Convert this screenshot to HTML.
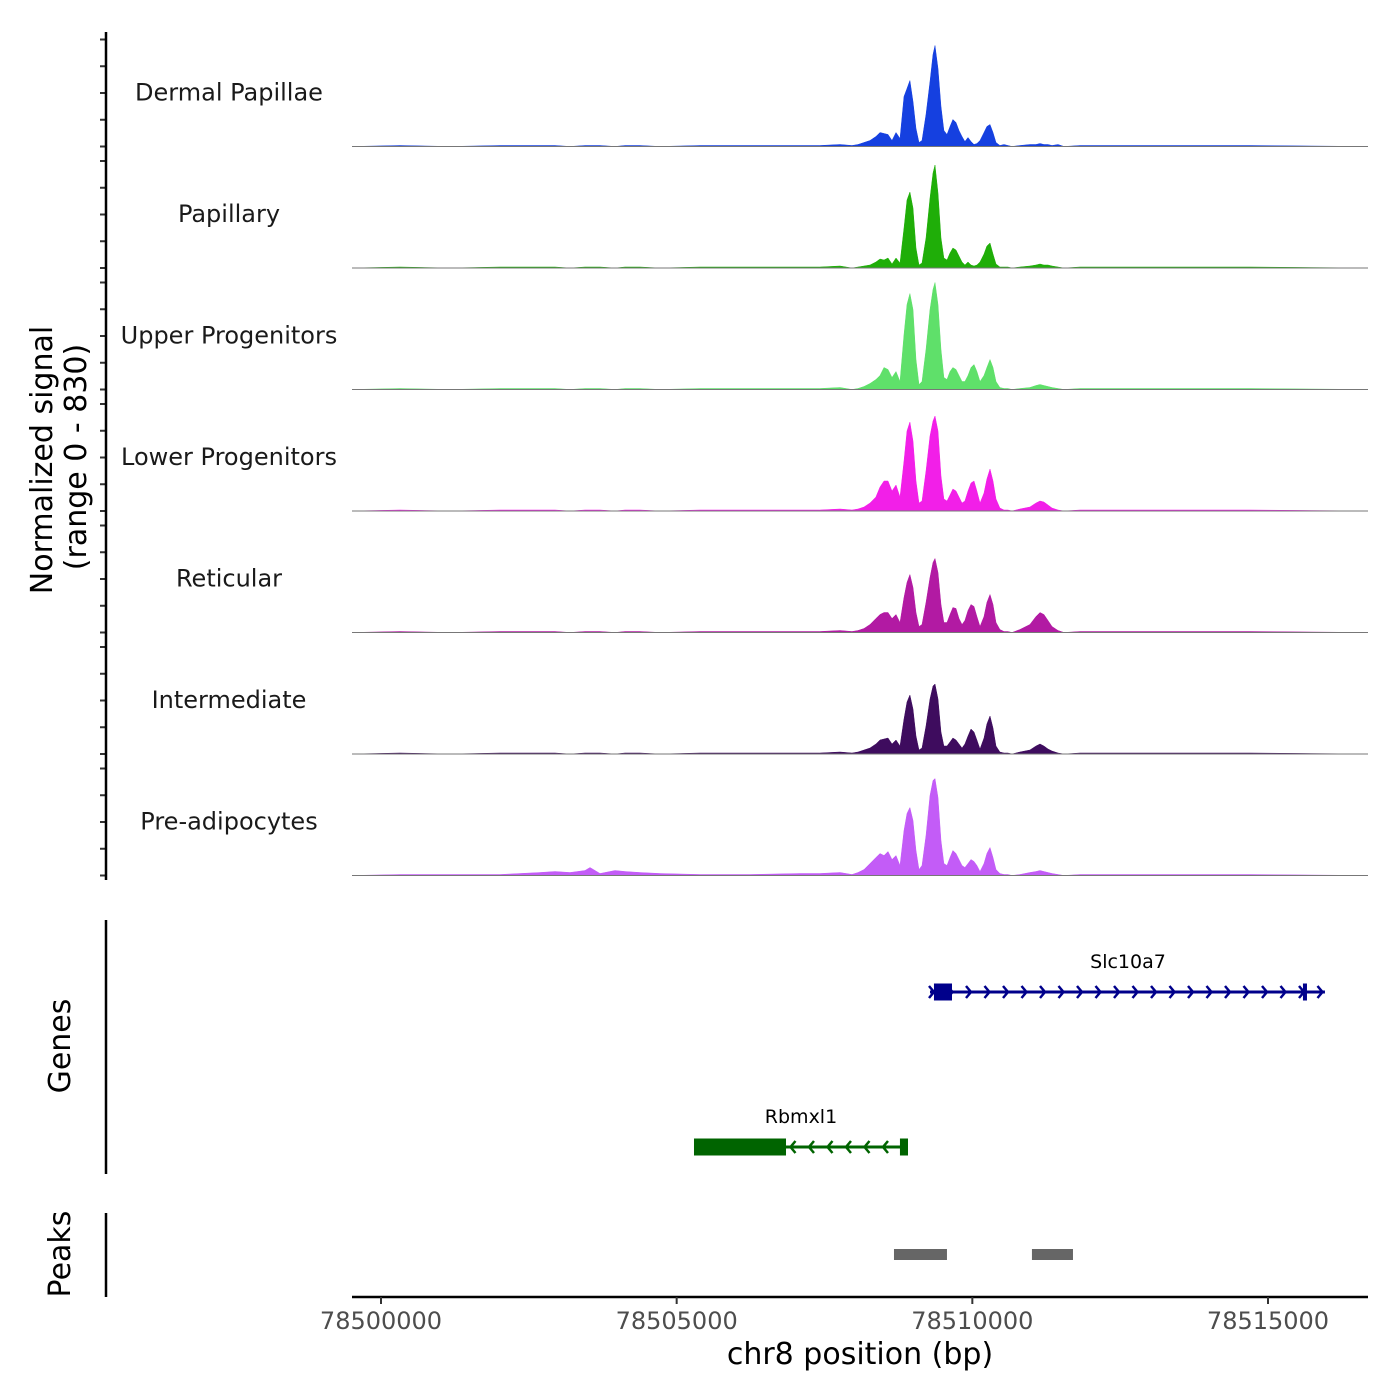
<!DOCTYPE html>
<html><head><meta charset="utf-8"><style>
html,body{margin:0;padding:0;background:#fff;}
svg{display:block;font-family:"DejaVu Sans","Liberation Sans",sans-serif;}
</style></head><body>
<svg id="chart" width="1400" height="1400" viewBox="0 0 1400 1400"></svg>
<script>
const NS="http://www.w3.org/2000/svg";
const CHROM_START=78500000;
const trackNames=["Dermal Papillae","Papillary","Upper Progenitors","Lower Progenitors","Reticular","Intermediate","Pre-adipocytes"];
const trackColors=["#1540e0","#1fae08","#5fe06a","#f21fe8","#b21aa3","#3e0c5e","#c35cf7"];
// positions as bp offsets from 78500000
const positions=[-490,321,1167,2012,2689,2942,3196,3450,3534,3703,3957,4126,4380,4718,5394,6240,7085,7423,7762,
7965,8066,8168,8269,8370,8438,8506,8573,8641,8709,8776,8844,8895,8945,8996,9047,9098,9148,9216,9284,9334,9368,9419,9470,9520,9571,9622,9672,9723,9774,9825,9875,9926,9977,10028,10078,10129,10197,10247,10298,10349,10400,10467,10535,10602,10670,10805,10974,11076,11144,11211,11279,11347,11448,11550,
11820,13004,14695,16690];
const farLeftFlat=[0,1,0,1,1,1,0,1,1,1,0,1,1,0,1,1,1,1,2];
const farLeftPre=[0,1,1,1,3,4,3,5,8,2,5,4,3,2,1,1,2,2,3];
const farRight=[1,1,1,0];
const core1=[1,2,4,6,10,14,13,12,6,14,8,50,58,66,45,18,4,6,32,65,92,101,78,40,16,12,20,27,24,16,10,5,9,5,2,3,6,14,20,22,14,4,1,2,1,0,1,2,2,3,2,2,1,2,0];
const core2=[0,1,2,3,6,9,8,10,4,10,5,40,68,76,60,20,3,5,30,70,95,103,75,30,10,8,15,20,18,12,6,3,6,3,2,3,6,14,22,25,14,4,1,1,1,0,1,2,3,4,3,3,2,1,0];
const core3=[0,1,3,6,10,14,22,20,12,18,8,55,85,96,80,30,5,8,40,80,100,107,85,40,12,10,18,22,20,14,8,8,14,22,25,18,8,14,22,30,22,8,2,1,1,0,1,2,4,5,4,3,2,1,0];
const core4=[1,2,4,8,14,24,30,30,20,26,14,50,80,89,70,30,8,10,40,75,90,95,80,35,12,10,16,22,20,14,8,10,20,28,30,20,8,18,32,42,30,12,3,1,1,0,2,4,8,10,9,6,3,1,0];
const core5=[1,2,4,8,14,18,20,20,14,18,10,35,50,58,45,20,6,8,30,55,70,74,60,28,10,10,18,25,24,14,8,12,22,28,26,16,6,16,30,38,28,10,3,1,1,0,3,8,16,20,18,12,6,2,0];
const core6=[1,2,4,6,10,14,15,16,10,14,8,35,52,59,45,18,4,6,28,55,68,70,55,22,8,8,12,16,14,10,6,10,18,25,22,14,5,16,30,38,26,8,2,1,1,0,2,4,8,10,8,5,3,1,0];
const core7=[1,3,6,12,18,22,20,24,16,20,10,45,62,68,55,25,6,10,40,80,95,97,78,35,12,10,18,25,22,16,10,8,12,16,14,10,4,12,22,28,18,6,2,1,1,0,1,3,4,5,4,3,2,1,0];
const trackValues=[
 farLeftFlat.concat(core1,farRight),
 farLeftFlat.concat(core2,farRight),
 farLeftFlat.concat(core3,farRight),
 farLeftFlat.concat(core4,farRight),
 farLeftFlat.concat(core5,farRight),
 farLeftFlat.concat(core6,farRight),
 farLeftPre.concat(core7,farRight)
];
const xTicks=[78500000,78505000,78510000,78515000];
const geneNames=["Slc10a7","Rbmxl1"];
const geneStarts=[9284,5293];
const geneEnds=[15963,8912];
const geneStrands=[1,-1];
const geneColors=["#00008b","#006400"];
const geneExonStarts=[[9351,15591],[5293,8776]];
const geneExonEnds=[[9656,15659],[6849,8912]];
const peakStarts=[8675,11008];
const peakEnds=[9571,11702];

const svg=document.getElementById('chart');
function el(tag,attrs,parent){const e=document.createElementNS(NS,tag);for(const k in attrs)e.setAttribute(k,attrs[k]);(parent||svg).appendChild(e);return e;}
const X0=381, PX_PER_BP=887/15000;
function xs(off){return X0+off*PX_PER_BP;}
const TOP=25, TRACK_H=121.5, YMAX=121.5;
function ys(i,v){return TOP+(i+1)*TRACK_H - v/YMAX*TRACK_H;}

trackNames.forEach((name,i)=>{
  const base=TOP+(i+1)*TRACK_H;
  let d="M"+xs(positions[0])+","+base;
  positions.forEach((p,j)=>{d+=" L"+xs(p).toFixed(1)+","+ys(i,trackValues[i][j]).toFixed(1);});
  d+=" L"+xs(positions[positions.length-1])+","+base+" Z";
  const a=el('path',{d:d,fill:trackColors[i],stroke:trackColors[i],'stroke-width':0.5});
  
  
  const bl=el('line',{x1:352,x2:1368,y1:base,y2:base,stroke:'#777','stroke-width':1});
  
  
  const t=el('text',{x:229,y:base-46,'text-anchor':'middle','font-size':24,fill:'#1a1a1a'});
  t.textContent=name;
  
  
  for(let k=0;k<5;k++){
    const ty=base-k*26.75;
    const tk=el('line',{x1:100,x2:106,y1:ty,y2:ty,stroke:'#333','stroke-width':2});
    
    
  }
});
const ya=el('line',{x1:106,x2:106,y1:32,y2:880,stroke:'#000','stroke-width':2.5});


const yt=el('text',{transform:'translate(52,460) rotate(-90)','text-anchor':'middle','font-size':30,fill:'#000'});
yt.textContent="Normalized signal";


const yt2=el('text',{transform:'translate(86,457) rotate(-90)','text-anchor':'middle','font-size':30,fill:'#000'});
yt2.textContent="(range 0 - 830)";



const gy=[992,1147];
geneNames.forEach((g,i)=>{
  const c=geneColors[i], y=gy[i];
  const ln=el('line',{x1:xs(geneStarts[i]),x2:xs(geneEnds[i]),y1:y,y2:y,stroke:c,'stroke-width':3});
  
  
  for(let x=xs(geneStarts[i])+4;x<xs(geneEnds[i]);x+=18.5){
    const s=geneStrands[i]*5;
    const ch=el('polyline',{points:`${x-s},${y-6} ${x},${y} ${x-s},${y+6}`,fill:'none',stroke:c,'stroke-width':2.5});
    
    
  }
  geneExonStarts[i].forEach((s,k)=>{
    const x1=xs(s),x2=xs(geneExonEnds[i][k]);
    const r=el('rect',{x:x1,y:y-8.5,width:Math.max(x2-x1,3),height:17,fill:c});
    
    
  });
  const t=el('text',{x:(i==0?1128:801),y:y-24,'text-anchor':'middle','font-size':19,fill:'#000'});
  t.textContent=g;
  
  
});
const ga=el('line',{x1:106,x2:106,y1:920,y2:1174,stroke:'#000','stroke-width':2.5});


const gt=el('text',{transform:'translate(70,1046) rotate(-90)','text-anchor':'middle','font-size':30,fill:'#000'});
gt.textContent="Genes";



peakStarts.forEach((s,i)=>{
  const r=el('rect',{x:xs(s),y:1249,width:xs(peakEnds[i])-xs(s),height:11,fill:'#666'});
  
  
});
const pa=el('line',{x1:106,x2:106,y1:1213,y2:1297,stroke:'#000','stroke-width':2.5});


const pt=el('text',{transform:'translate(70,1254) rotate(-90)','text-anchor':'middle','font-size':30,fill:'#000'});
pt.textContent="Peaks";



const xa=el('line',{x1:352,x2:1368,y1:1297,y2:1297,stroke:'#000','stroke-width':2.5});


xTicks.forEach(v=>{
  const x=xs(v-CHROM_START);
  const tk=el('line',{x1:x,x2:x,y1:1297,y2:1304,stroke:'#333','stroke-width':2});
  
  
  const t=el('text',{x:x,y:1329,'text-anchor':'middle','font-size':24,fill:'#4d4d4d'});
  t.textContent=String(v);
  
  
});
const xt=el('text',{x:860,y:1364,'text-anchor':'middle','font-size':30,fill:'#000'});
xt.textContent="chr8 position (bp)";


</script>
</body></html>
